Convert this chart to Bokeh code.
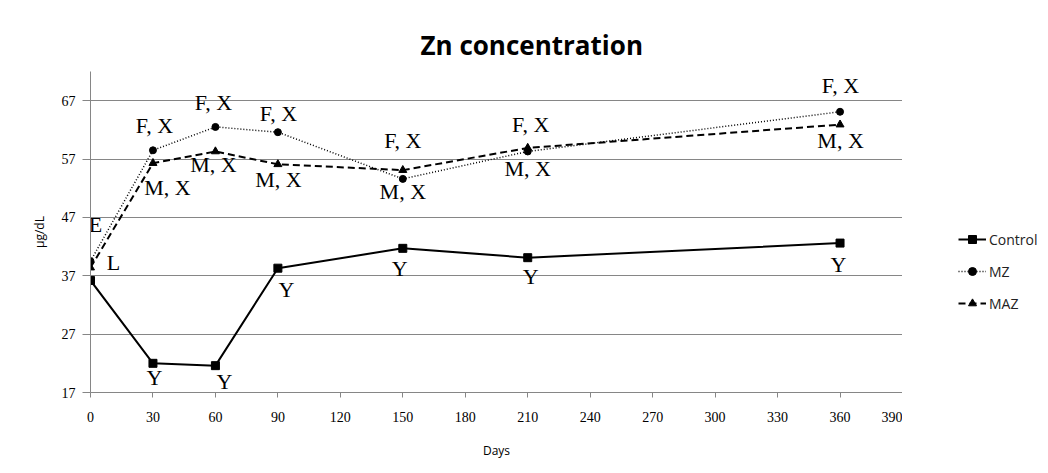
from bokeh.plotting import figure
from bokeh.layouts import row
from bokeh.models import Range1d, FixedTicker, Legend, LegendItem, ColumnDataSource
from bokeh.core.properties import value
from bokeh.embed import file_html
from bokeh.resources import INLINE

# ---- data ----
days = [0, 30, 60, 90, 150, 210, 360]
control = [36.2, 22.0, 21.6, 38.3, 41.7, 40.1, 42.6]
mz = [39.5, 58.5, 62.5, 61.6, 53.6, 58.3, 65.1]
maz = [38.4, 56.3, 58.3, 56.1, 55.1, 58.9, 62.9]

series_names = ["Control", "MZ", "MAZ"]
control_labels = ["", "Y", "Y", "Y", "Y", "Y", "Y"]
mz_labels = ["E", "F, X", "F, X", "F, X", "F, X", "F, X", "F, X"]
maz_labels = ["L", "M, X", "M, X", "M, X", "M, X", "M, X", "M, X"]

x_ticks = [0, 30, 60, 90, 120, 150, 180, 210, 240, 270, 300, 330, 360, 390]
y_ticks = [17, 27, 37, 47, 57, 67]

# ---- label pixel offsets (styling) ----
control_dx = [0, 1.5, 9, 8.6, -3, 3, -1.5]
control_dy = [0, 14, 16, 21, 20, 19, 21]
mz_dx = [5, 1.5, -2, 0.6, 0, 3, 0.5]
mz_dy = [-37, -25, -24, -19, -38, -27, -26]
maz_dx = [23, 14.5, -2, 0.6, 0, 0, 0.5]
maz_dy = [-5, 24, 13, 15, 21, 21, 16]

# ---- styles ----
styles = [
    dict(line=dict(line_color="black", line_width=2), marker="square", size=8),
    dict(line=dict(line_color="black", line_width=1.5, line_dash="1 2"), marker="circle", size=7),
    dict(line=dict(line_color="black", line_width=2, line_dash="7 4"), marker="triangle", size=8),
]

H = 465
p = figure(width=902, height=H, output_backend="svg", toolbar_location=None,
           x_range=Range1d(0, 390), y_range=Range1d(17, 72),
           min_border_left=90, min_border_right=0, min_border_top=71, min_border_bottom=73)
p.outline_line_color = None
p.background_fill_color = "white"
p.border_fill_color = "white"

# title
p.title.text = "Zn concentration"
p.title.align = "left"
p.title.offset = 330
p.title.text_font = "Open Sans"
p.title.text_font_size = "26px"
p.title.text_font_style = "bold"
p.title.text_color = "black"
p.title.standoff = 18

# axes
axis_gray = "#868686"
p.xaxis.ticker = FixedTicker(ticks=x_ticks)
p.yaxis.ticker = FixedTicker(ticks=y_ticks)
p.xgrid.visible = False
p.ygrid.ticker = FixedTicker(ticks=y_ticks)
p.ygrid.grid_line_color = axis_gray
p.ygrid.grid_line_width = 1
for ax in (p.xaxis[0], p.yaxis[0]):
    ax.axis_line_color = axis_gray
    ax.major_tick_line_color = axis_gray
    ax.minor_tick_line_color = None
    ax.major_tick_in = 0
    ax.major_label_text_font = "Liberation Serif"
    ax.major_label_text_font_size = "14px"
    ax.major_label_text_color = "black"
    ax.axis_label_text_font = "Open Sans"
    ax.axis_label_text_font_size = "12px"
    ax.axis_label_text_font_style = "normal"
    ax.axis_label_text_color = "black"
p.xaxis.major_tick_out = 5
p.xaxis.major_label_standoff = 14
p.xaxis.axis_label = "Days"
p.xaxis.axis_label_standoff = 17
p.yaxis.major_tick_out = 8
p.yaxis.major_label_standoff = 7
p.yaxis.axis_label = "µg/dL"
p.yaxis.axis_label_standoff = 11

# series
for ys, st in zip((control, mz, maz), styles):
    p.line(days, ys, **st["line"])
    p.scatter(days, ys, marker=st["marker"], size=st["size"], color="black")

# point labels
for ys, labs, dx, dy in ((control, control_labels, control_dx, control_dy),
                         (mz, mz_labels, mz_dx, mz_dy),
                         (maz, maz_labels, maz_dx, maz_dy)):
    src = ColumnDataSource(dict(x=days, y=ys, t=labs, dx=dx, dy=dy))
    p.text(x="x", y="y", text="t", x_offset="dx", y_offset="dy", source=src,
           text_align="center", text_baseline="middle",
           text_font=value("Liberation Serif"), text_font_size="22px", text_color="black")

# legend panel (separate narrow figure to the right; its frame aligns with p's frame)
q = figure(width=144, height=H, output_backend="svg", toolbar_location=None,
           x_range=Range1d(0, 1), y_range=Range1d(0, 1),
           x_axis_location=None, y_axis_location=None,
           min_border=0, min_border_left=0, min_border_right=0,
           min_border_top=0, min_border_bottom=0)
q.outline_line_color = None
q.xgrid.visible = False
q.ygrid.visible = False
q.background_fill_color = "white"
q.border_fill_color = "white"
items = []
for name, ys, st in zip(series_names, (control, mz, maz), styles):
    # same series drawn in q's (0..1) ranges: out of view, used only as legend proxies
    rl = q.line(days, ys, **st["line"])
    rm = q.scatter(days, ys, marker=st["marker"], size=st["size"], color="black")
    items.append(LegendItem(label=name, renderers=[rl, rm]))
legend = Legend(items=items, location=(56, 79))
legend.border_line_color = None
legend.background_fill_alpha = 0
legend.padding = 0
legend.margin = 0
legend.spacing = 12
legend.glyph_height = 20
legend.glyph_width = 28
legend.label_height = 20
legend.label_standoff = 3
legend.label_text_font = "Open Sans"
legend.label_text_font_size = "14px"
legend.label_text_color = "#222222"
q.add_layout(legend)

layout = row(p, q, spacing=0)
open("out.html", "w").write(file_html(layout, INLINE))
